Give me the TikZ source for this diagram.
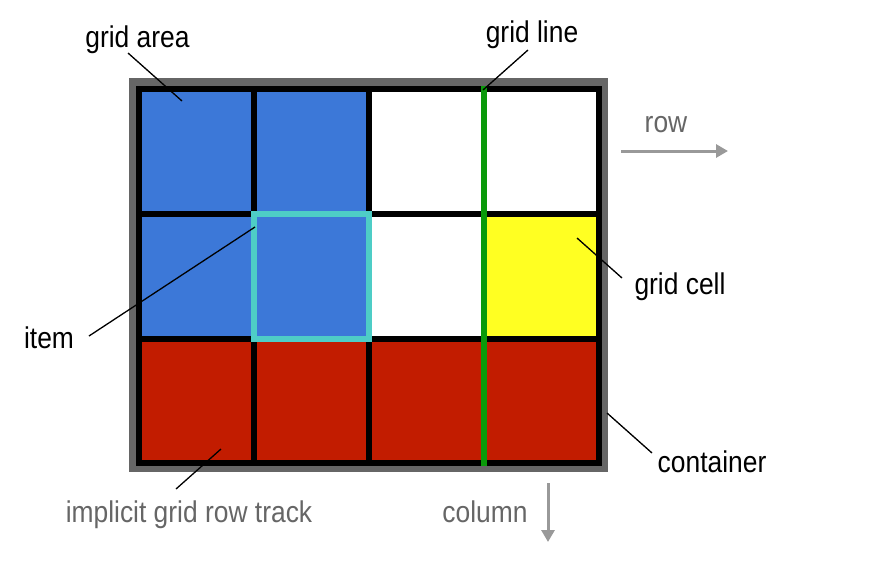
\documentclass[tikz,border=0pt]{standalone}
\usepackage{fontspec}
\setmainfont{Liberation Sans}[FakeStretch=0.88]
\usetikzlibrary{positioning, arrows.meta, calc}
\definecolor{areablue}{HTML}{3C78D8}
\definecolor{trackred}{HTML}{C21C00}
\definecolor{cellyellow}{HTML}{FFFF22}
\definecolor{itemcyan}{HTML}{4ECDC6}
\definecolor{linegreen}{HTML}{0A9A0A}
\definecolor{boxgray}{HTML}{666666}
\definecolor{arrowgray}{HTML}{999999}

\begin{document}
\begin{tikzpicture}[x=1pt, y=-1pt,
    >={Triangle[length=12pt, width=13pt]}, % gefuellte Pfeilspitzen
    lbl/.style={font=\fontsize{30}{35}\selectfont, anchor=base, inner sep=0pt},
    dimlbl/.style={lbl, text=boxgray},
    leader/.style={draw=black, line width=1.3pt},
    dirarrow/.style={draw=arrowgray, line width=3pt, ->},
    gridline/.style={draw=black, line width=6pt}
]
\useasboundingbox (0,0) rectangle (872,562);

% 1. Container (grauer Rahmen)
\fill[boxgray] (129,78) rectangle (608,472);

% 2. Zellen fuellen
\foreach \x/\y/\c in {139/89/areablue, 254/89/areablue, 369/89/white, 484/89/white,
                      139/214/areablue, 254/214/areablue, 369/214/white, 484/214/cellyellow,
                      139/339/trackred, 254/339/trackred, 369/339/trackred, 484/339/trackred}
  \fill[\c] (\x,\y) rectangle ++(115,125);

% 3. Gitterlinien
\draw[gridline] (139,89) rectangle (598.5,463);
\foreach \x in {254, 369, 484}
  \draw[gridline] (\x,89) -- (\x,463);
\foreach \y in {214, 339}
  \draw[gridline] (139,\y) -- (598.5,\y);

% 4. Item und Grid Line
\draw[itemcyan, line width=6pt] (254,214) rectangle (369,339);
\draw[linegreen, line width=6pt] (484,86) -- (484,466);

% 5. Beschriftungen
\node[lbl] (arealbl) at (137.5,47) {grid area};
\node[lbl] (linelbl) at (532,42) {grid line};
\node[lbl] (celllbl) at (680,294) {grid cell};
\node[lbl] (itemlbl) at (49,348) {item};
\node[lbl] (contlbl) at (712,472) {container};
\node[dimlbl] (tracklbl) at (189,522) {implicit grid row track};
\node[dimlbl] (rowlbl) at (666,132) {row};
\node[dimlbl] (collbl) at (485,522) {column};

% 6. Hinweislinien
\coordinate (area_a) at (128,53);   \coordinate (area_b) at (182,101);
\coordinate (line_a) at (528,50);   \coordinate (line_b) at (483,90);
\coordinate (cell_a) at (622,278);  \coordinate (cell_b) at (577,238);
\coordinate (item_a) at (89,336);   \coordinate (item_b) at (255,227);
\coordinate (cont_a) at (652,453);  \coordinate (cont_b) at (607,413);
\coordinate (track_a) at (176,489); \coordinate (track_b) at (221,449);
\foreach \n in {area, line, cell, item, cont, track}
  \draw[leader] (\n_a) -- (\n_b);

% 7. Richtungspfeile
\coordinate (row_a) at (621,151);  \coordinate (row_b) at (728,151);
\coordinate (col_a) at (548,483);  \coordinate (col_b) at (548,542);
\draw[dirarrow] (row_a) -- (row_b);
\draw[dirarrow] (col_a) -- (col_b);

\end{tikzpicture}
\end{document}
